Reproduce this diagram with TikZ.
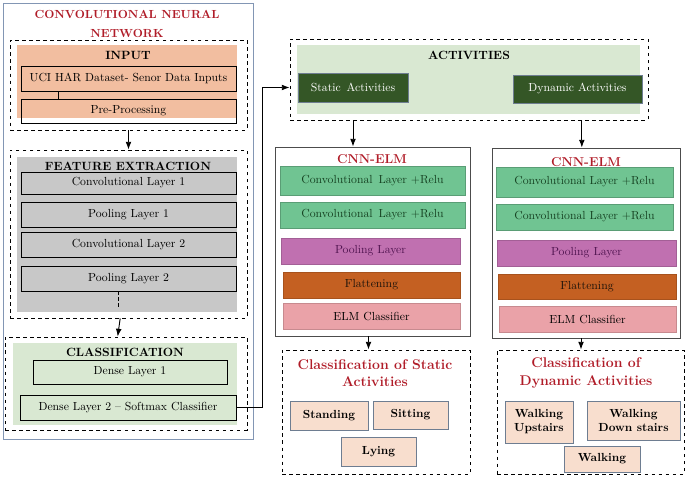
\documentclass[tikz,border=0pt]{standalone}
\usetikzlibrary{fit , arrows.meta}

\definecolor{titlered}{RGB}{176,28,40}
\definecolor{inpeach}{RGB}{242,190,160}
\definecolor{featgrey}{RGB}{200,200,200}
\definecolor{lightgreen}{RGB}{217,232,210}
\definecolor{darkgreen}{RGB}{52,86,38}
\definecolor{convgreen}{RGB}{112,196,146}
\definecolor{convtext}{RGB}{22,66,34}
\definecolor{poolpink}{RGB}{192,112,176}
\definecolor{pooltext}{RGB}{80,20,80}
\definecolor{flatbrown}{RGB}{196,96,34}
\definecolor{elmpink}{RGB}{234,162,168}
\definecolor{itempeach}{RGB}{248,222,206}
\definecolor{itemborder}{RGB}{110,125,145}
\definecolor{cnnborder}{RGB}{130,150,180}

\begin{document}
\begin{tikzpicture}[x = 0.03cm , y = -0.03cm ,
    txt/.style = {font = \fontsize{10}{11}\selectfont , align = center},
    btxt/.style = {font = \fontsize{10}{12}\selectfont\bfseries , align = center},
    box/.style = {draw , thick , inner sep = 0pt},
    dashbox/.style = {draw , dashed , thick , inner sep = 0pt},
    head/.style = {font = \fontsize{10.2}{12}\selectfont\bfseries},
    redhead/.style = {font = \fontsize{11}{15}\selectfont\bfseries , text = titlered , align = center},
    conv/.style = {fill = convgreen , draw = convgreen!80!black , inner sep = 0pt},
    pool/.style = {fill = poolpink , draw = poolpink!85!black , inner sep = 0pt},
    flat/.style = {fill = flatbrown , draw = flatbrown!85!black , inner sep = 0pt},
    elm/.style = {fill = elmpink , draw = elmpink!85!black , inner sep = 0pt},
    act/.style = {fill = darkgreen , draw = itemborder , thick , inner sep = 0pt},
    item/.style = {fill = itempeach , draw = itemborder , thick , inner sep = 0pt}]

    \useasboundingbox (0,0) rectangle (685,477);

    % Convolutional neural network
    \node[draw = cnnborder , thick , inner sep = 0pt , fit = {(3,3) (253,439)}] (cnn) {};
    \node[redhead , font = \fontsize{10}{16}\selectfont\bfseries] at (127,24) {CONVOLUTIONAL NEURAL\\NETWORK};

    % Input
    \node[dashbox , fit = {(10,40) (247,130)}] (inbox) {};
    \fill[inpeach] (17,45) rectangle (237,118);
    \node[head] at (128,55) {INPUT};
    \node[box , fit = {(21,66) (236,91)} , label = {[txt]center:UCI HAR Dataset- Senor Data Inputs}] (uci) {};
    \node[box , fit = {(21,99) (236,123)} , label = {[txt]center:Pre-Processing}] (pre) {};
    \draw ([xshift = -2.1cm]uci.south) -- ([xshift = -2.1cm]pre.north);

    % Feature extraction
    \node[dashbox , fit = {(10,150) (247,318)}] (featbox) {};
    \fill[featgrey] (17,157) rectangle (237,312);
    \node[head] at (128,166) {FEATURE EXTRACTION};
    \node[box , fit = {(21,172) (236,194)} , label = {[txt]center:Convolutional Layer 1}] (conv1) {};
    \node[box , fit = {(21,202) (236,227)} , label = {[txt]center:Pooling Layer 1}] (pool1) {};
    \node[box , fit = {(21,232) (236,257)} , label = {[txt]center:Convolutional Layer 2}] (conv2) {};
    \node[box , fit = {(21,266) (236,291)} , label = {[txt]center:Pooling Layer 2}] (pool2) {};
    \draw[densely dashed] ([xshift = -0.3cm]pool2.south) -- ++(0,16);

    % Classification
    \node[dashbox , fit = {(5,337) (247,430)}] (clsbox) {};
    \fill[lightgreen] (13,343) rectangle (237,425);
    \node[head] at (125,352) {CLASSIFICATION};
    \node[box , fit = {(33,360) (227,384)} , label = {[txt]center:Dense Layer 1}] (dense1) {};
    \node[box , fit = {(20,395) (236,420)} , label = {[txt]center:Dense Layer 2 -- Softmax Classifier}] (dense2) {};

    \draw[thick , -Latex] (inbox.south) -- (featbox.north);
    \draw[thick , -Latex] ([xshift = -0.25cm]featbox.south) -- ([xshift = -0.25cm]clsbox.north);

    % Activities
    \node[dashbox , fit = {(290,39) (648,120)}] (actbox) {};
    \fill[lightgreen] (297,45) rectangle (640,114);
    \node[head] at (469,55) {ACTIVITIES};
    \node[act , fit = {(298,73) (408,102)} , label = {[txt , text = white]center:Static\, Activities}] (static) {};
    \node[act , fit = {(513,75) (642,103)} , label = {[txt , text = white]center:Dynamic Activities}] (dynamic) {};

    \draw[thick , -Latex] (dense2.east) -- ++(26,0) |- (actbox.west |- static);

    % CNN-ELM (static)
    \node[draw = black!70 , thick , inner sep = 0pt , fit = {(275,147) (470,336)}] (elmL) {};
    \node[redhead] at (372,159) {CNN-ELM};
    \node[conv , fit = {(280,166) (465,195)} , label = {[txt , text = convtext]center:Convolutional\, Layer +Relu}] (convLa) {};
    \node[conv , fit = {(280,202) (465,228)} , label = {[txt , text = convtext]center:Convolutional\, Layer +Relu}] (convLb) {};
    \node[pool , fit = {(281,238) (460,264)} , label = {[txt , text = pooltext]center:Pooling Layer}] (poolL) {};
    \node[flat , fit = {(283,272) (460,298)} , label = {[txt , text = black!85!brown]center:Flattening}] (flatL) {};
    \node[elm , fit = {(283,303) (460,329)} , label = {[txt]center:ELM Classifier}] (clsL) {};

    % CNN-ELM (dynamic)
    \node[draw = black!70 , thick , inner sep = 0pt , fit = {(492,148) (680,338)}] (elmR) {};
    \node[redhead] at (586,162) {CNN-ELM};
    \node[conv , fit = {(496,167) (673,197)} , label = {[txt , text = convtext]center:Convolutional Layer +Relu}] (convRa) {};
    \node[conv , fit = {(496,204) (673,230)} , label = {[txt , text = convtext]center:Convolutional Layer +Relu}] (convRb) {};
    \node[pool , fit = {(497,240) (676,266)} , label = {[txt , text = pooltext]center:Pooling Layer}] (poolR) {};
    \node[flat , fit = {(498,274) (676,299)} , label = {[txt , text = black!85!brown]center:Flattening}] (flatR) {};
    \node[elm , fit = {(499,306) (676,332)} , label = {[txt]center:ELM Classifier}] (clsR) {};

    \draw[thick , -Latex] (actbox.south -| static) -- (elmL.north -| static);
    \draw[thick , -Latex] ([xshift = 0.13cm]actbox.south -| dynamic) -- ([xshift = 0.13cm]elmR.north -| dynamic);

    % Classification of static activities
    \node[dashbox , fit = {(282,350) (470,474)}] (sclass) {};
    \node[redhead , font = \fontsize{12}{15}\selectfont\bfseries] at (375,373) {Classification of Static\\Activities};
    \node[item , fit = {(290,401) (368,430)} , label = {[btxt]center:Standing}] (standing) {};
    \node[item , fit = {(373,401) (448,429)} , label = {[btxt]center:Sitting}] (sitting) {};
    \node[item , fit = {(341,437) (416,466)} , label = {[btxt]center:Lying}] (lying) {};

    % Classification of dynamic activities
    \node[dashbox , fit = {(497,350) (684,474)}] (dclass) {};
    \node[redhead , font = \fontsize{12}{15}\selectfont\bfseries] at (586,373) {Classification of\\Dynamic Activities};
    \node[item , fit = {(505,401) (573,443)} , label = {[btxt]center:Walking\\Upstairs}] (upstairs) {};
    \node[item , fit = {(587,401) (680,440)} , label = {[btxt]center:Walking\\Down stairs}] (downstairs) {};
    \node[item , fit = {(564,446) (640,472)} , label = {[btxt]center:Walking}] (walking) {};

    \draw[thick , -Latex] ([xshift = -0.12cm]elmL.south) -- ([xshift = -0.12cm]elmL.south |- sclass.north);
    \draw[thick , -Latex] ([xshift = -0.15cm]elmR.south) -- ([xshift = -0.15cm]elmR.south |- dclass.north);
\end{tikzpicture}
\end{document}
